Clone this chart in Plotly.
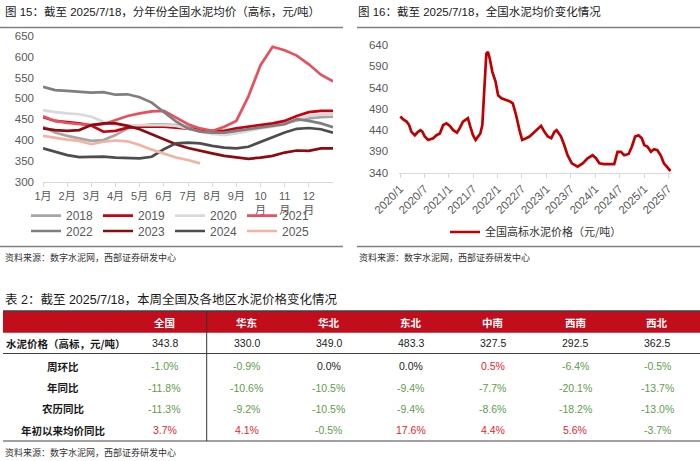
import plotly.graph_objects as go

W, H = 700, 461

# ---------------- data: left chart (weekly-ish, by month position) ----------------
MONTH_POS = [1.0, 1.5, 2.0, 2.5, 3.0, 3.5, 4.0, 4.5, 5.0, 5.5, 6.0, 6.5, 7.0,
             7.5, 8.0, 8.5, 9.0, 9.5, 10.0, 10.5, 11.0, 11.5, 12.0, 12.5, 13.0]
MONTH_TICKS = [1, 2, 3, 4, 5, 6, 7, 8, 9, 10, 11, 12]
MONTH_LABELS = ["1月", "2月", "3月", "4月", "5月", "6月", "7月", "8月", "9月",
                "10<br>月", "11<br>月", "12<br>月"]

Y2018 = [432, 418, 410, 404, 398, 400, 412, 428, 434, 438, 438, 436, 432, 426, 420, 415, 418, 424, 430, 436, 440, 447, 452, 455, 456]
Y2019 = [455, 446, 443, 440, 435, 420, 422, 430, 432, 433, 432, 430, 428, 425, 422, 422, 428, 432, 437, 440, 446, 458, 467, 470, 470]
Y2020 = [472, 467, 464, 462, 456, 444, 436, 436, 437, 437, 436, 434, 428, 420, 415, 412, 416, 422, 428, 432, 438, 450, 458, 461, 462]
Y2021 = [457, 446, 441, 438, 436, 438, 448, 458, 464, 469, 470, 455, 438, 428, 422, 432, 446, 505, 580, 624, 616, 603, 582, 557, 541]
Y2022 = [528, 520, 518, 516, 514, 515, 509, 510, 503, 490, 467, 445, 428, 420, 418, 418, 422, 426, 430, 433, 438, 450, 446, 440, 431]
Y2023 = [428, 424, 422, 424, 436, 440, 440, 434, 426, 414, 402, 390, 381, 374, 368, 362, 359, 355, 358, 362, 370, 375, 374, 380, 380]
Y2024 = [380, 372, 364, 359, 359, 360, 358, 357, 356, 360, 378, 392, 394, 392, 386, 382, 380, 384, 395, 407, 418, 427, 429, 426, 418]
Y2025 = [410, 405, 401, 398, 390, 396, 399, 397, 388, 377, 367, 358, 352, 344]

YEARS = ["2018", "2019", "2020", "2021", "2022", "2023", "2024", "2025"]
YEAR_VALUES = [Y2018, Y2019, Y2020, Y2021, Y2022, Y2023, Y2024, Y2025]
YEAR_COLORS = ["#a6a6a6", "#c8000f", "#d9d9d9", "#e8505e",
               "#7f7f7f", "#8c0a10", "#4d4d4d", "#f2b3a4"]

# ---------------- data: right chart ----------------
NAT_DATES = ["2020-01-03", "2020-01-25", "2020-02-19", "2020-03-09", "2020-03-26", "2020-04-21",
             "2020-05-15", "2020-06-02", "2020-06-17", "2020-07-04", "2020-07-29", "2020-09-05",
             "2020-09-30", "2020-10-25", "2020-11-19", "2020-12-14", "2021-01-08", "2021-02-02",
             "2021-03-02", "2021-03-22", "2021-04-16", "2021-05-23", "2021-06-10", "2021-06-30",
             "2021-07-20", "2021-08-07", "2021-08-24", "2021-09-08", "2021-09-26", "2021-10-08",
             "2021-10-20", "2021-11-02", "2021-11-22", "2021-12-16", "2022-01-04", "2022-01-29",
             "2022-03-05", "2022-03-30", "2022-04-24", "2022-05-19", "2022-06-13", "2022-07-03",
             "2022-08-02", "2022-08-27", "2022-09-21", "2022-10-28", "2022-11-22", "2022-12-17",
             "2023-01-11", "2023-02-06", "2023-03-01", "2023-03-18", "2023-04-20", "2023-05-14",
             "2023-06-08", "2023-07-10", "2023-08-22", "2023-09-29", "2023-11-05", "2023-12-12",
             "2024-01-07", "2024-02-01", "2024-03-08", "2024-04-15", "2024-05-22", "2024-06-16",
             "2024-07-11", "2024-08-05", "2024-09-07", "2024-10-01", "2024-10-26", "2024-11-20",
             "2024-12-15", "2025-01-02", "2025-01-27", "2025-02-21", "2025-03-16", "2025-04-10",
             "2025-05-05", "2025-05-29", "2025-07-18"]
NAT_PRICE = [472, 465, 460, 452, 436, 428, 436, 440, 436, 425, 417, 421,
             428, 432, 452, 456, 450, 440, 434, 444, 460, 468, 448, 428,
             417, 425, 432, 452, 573, 620, 624, 609, 577, 554, 522, 515,
             511, 508, 503, 475, 440, 417, 421, 425, 432, 444, 450, 436,
             425, 421, 436, 440, 425, 405, 381, 362, 354, 362, 374, 381,
             374, 362, 360, 360, 360, 389, 389, 381, 384, 401, 425, 428,
             421, 405, 401, 389, 395, 393, 381, 362, 344]
NAT_TICKVALS = ["2020-01-01", "2020-07-01", "2021-01-01", "2021-07-01", "2022-01-01", "2022-07-01",
                "2023-01-01", "2023-07-01", "2024-01-01", "2024-07-01", "2025-01-01", "2025-07-01"]
NAT_TICKTEXT = ["2020/1", "2020/7", "2021/1", "2021/7", "2022/1", "2022/7",
                "2023/1", "2023/7", "2024/1", "2024/7", "2025/1", "2025/7"]

# ---------------- data: table ----------------
REGIONS = ["全国", "华东", "华北", "东北", "中南", "西南", "西北"]
PRICE = [343.8, 330.0, 349.0, 483.3, 327.5, 292.5, 362.5]
WOW = [-1.0, -0.9, 0.0, 0.0, 0.5, -6.4, -0.5]
YOY = [-11.8, -10.6, -10.5, -9.4, -7.7, -20.1, -13.7]
LUNAR = [-11.3, -9.2, -10.5, -9.4, -8.6, -18.2, -13.0]
YTD = [3.7, 4.1, -0.5, 17.6, 4.4, 5.6, -3.7]
ROW_LABELS = ["水泥价格（高标，元/吨）", "周环比", "年同比", "农历同比", "年初以来均价同比"]

TITLE_L = "图 15：截至 2025/7/18，分年份全国水泥均价（高标，元/吨）"
TITLE_R = "图 16：截至 2025/7/18，全国水泥均价变化情况"
TITLE_T = "表 2：截至 2025/7/18，本周全国及各地区水泥价格变化情况"
SOURCE = "资料来源：数字水泥网，西部证券研发中心"
NAT_NAME = "全国高标水泥价格（元/吨）"

FONT = "Liberation Sans, Arial, Noto Sans CJK SC, sans-serif"
CJK = "Noto Sans CJK SC, sans-serif"
TICK_C = "#595959"
GREEN = "#5e9d48"
RED = "#e3262e"
HEAD_RED = "#c20e1c"


def px(x):
    return x / W


def py(y):
    return 1 - y / H


fig = go.Figure()

legend_of = ["legend", "legend", "legend", "legend", "legend2", "legend2", "legend2", "legend2"]
for name, vals, col, lg in zip(YEARS, YEAR_VALUES, YEAR_COLORS, legend_of):
    fig.add_trace(go.Scatter(x=MONTH_POS[:len(vals)], y=vals, mode="lines", name=name,
                             line=dict(color=col, width=2.7), legend=lg,
                             xaxis="x", yaxis="y"))

fig.add_trace(go.Scatter(x=NAT_DATES, y=NAT_PRICE, mode="lines", name=NAT_NAME,
                         line=dict(color="#c00000", width=2.7), legend="legend3",
                         xaxis="x2", yaxis="y2"))

axis_common = dict(showgrid=False, zeroline=False, automargin=False)
fig.update_layout(
    width=W, height=H, margin=dict(l=0, r=0, t=0, b=0, autoexpand=False),
    paper_bgcolor="white", plot_bgcolor="white",
    font=dict(family=FONT, color="#333333"),
    xaxis=dict(domain=[px(43), px(333)], range=[1, 13], tickvals=MONTH_TICKS,
               ticktext=MONTH_LABELS, showline=True, linecolor="#d9d9d9", linewidth=1,
               ticks="outside", ticklen=4, tickcolor="#d9d9d9",
               tickfont=dict(size=11, color=TICK_C, family=FONT), anchor="y", **axis_common),
    yaxis=dict(domain=[py(181.7), py(36)], range=[300, 650], dtick=50, tick0=300,
               tickfont=dict(size=11.5, color=TICK_C), ticklabelstandoff=8,
               anchor="x", **axis_common),
    xaxis2=dict(type="date", domain=[px(399.1), px(671.5)], range=["2019-12-25", "2025-07-25"],
                tickvals=NAT_TICKVALS, ticktext=NAT_TICKTEXT, tickangle=-45,
                showline=True, linecolor="#d9d9d9", linewidth=1, ticks="outside", ticklen=4,
                tickcolor="#d9d9d9", tickfont=dict(size=11.5, color=TICK_C),
                anchor="y2", **axis_common),
    yaxis2=dict(domain=[py(172.7), py(45)], range=[340, 640], dtick=50, tick0=340,
                tickfont=dict(size=11.5, color=TICK_C), ticklabelstandoff=10,
                anchor="x2", **axis_common),
    legend=dict(orientation="h", x=px(26), y=py(215.7), xanchor="left", yanchor="middle",
                font=dict(size=12, color=TICK_C), entrywidth=27, itemwidth=30,
                bgcolor="rgba(0,0,0,0)", traceorder="normal"),
    legend2=dict(orientation="h", x=px(26), y=py(231), xanchor="left", yanchor="middle",
                 font=dict(size=12, color=TICK_C), entrywidth=27, itemwidth=30,
                 bgcolor="rgba(0,0,0,0)", traceorder="normal"),
    legend3=dict(orientation="h", x=px(445), y=py(232), xanchor="left", yanchor="middle",
                 font=dict(size=11, color="#333333", family=CJK), itemwidth=30,
                 bgcolor="rgba(0,0,0,0)"),
)

ann = []
shapes = []


def text(x, y, s, size, color="#222222", anchor="left", family=FONT, bold=False):
    if bold:
        s = "<b>" + s + "</b>"
    ann.append(dict(x=px(x), y=py(y), xref="paper", yref="paper", text=s, showarrow=False,
                    xanchor=anchor, yanchor="middle",
                    font=dict(size=size, color=color, family=family)))


def hline(x0, x1, y, color, width):
    shapes.append(dict(type="line", xref="paper", yref="paper", x0=px(x0), x1=px(x1),
                       y0=py(y), y1=py(y), line=dict(color=color, width=width)))


# titles and rules
text(3, 11, TITLE_L, 11.5, "#1a1a1a")
text(356, 11, TITLE_R, 11.5, "#1a1a1a")
hline(0, 343, 27.5, "#808080", 1.5)
hline(357, 700, 27.5, "#808080", 1.5)
hline(0, 343, 246.5, "#808080", 1.5)
hline(357, 700, 246.5, "#808080", 1.5)
text(3, 257, SOURCE, 9, "#333333")
text(357, 257, SOURCE, 9, "#333333")

# table
text(3, 299, TITLE_T, 12.5, "#1a1a1a")
shapes.append(dict(type="rect", xref="paper", yref="paper", x0=px(3), x1=px(700),
                   y0=py(332.7), y1=py(311), fillcolor=HEAD_RED, line=dict(width=0)))
hline(3, 700, 311, "#404040", 1.5)
hline(3, 700, 353.5, "#404040", 1)
hline(3, 700, 441, "#808080", 1.5)
shapes.append(dict(type="line", xref="paper", yref="paper", x0=px(206.7), x1=px(206.7),
                   y0=py(311), y1=py(441), line=dict(color="#333333", width=1)))

col_x = [164.5 + 82.1 * i for i in range(len(REGIONS))]
head_y, price_y = 322, 343
row_y = [366, 387.5, 408.7, 430]

for cx, r in zip(col_x, REGIONS):
    text(cx, head_y, r, 10.5, "white", "center", CJK, bold=True)
for cx, v in zip(col_x, PRICE):
    text(cx, price_y, f"{v:.1f}", 10.5, "#222222", "center")

text(4, price_y, ROW_LABELS[0], 10.5, "#1a1a1a", "left", CJK, bold=True)
for ry, lab, series in zip(row_y, ROW_LABELS[1:], [WOW, YOY, LUNAR, YTD]):
    text(63, ry, lab, 10.5, "#1a1a1a", "center", CJK, bold=True)
    for cx, v in zip(col_x, series):
        c = GREEN if v < 0 else (RED if v > 0 else "#222222")
        text(cx, ry, f"{v:.1f}%", 10.5, c, "center")

text(3, 452, SOURCE, 9, "#333333")

fig.update_layout(annotations=ann, shapes=shapes)
fig.write_html("out.html", config={"displayModeBar": False},
               post_script="document.body.style.margin='0';document.body.style.padding='0';")
